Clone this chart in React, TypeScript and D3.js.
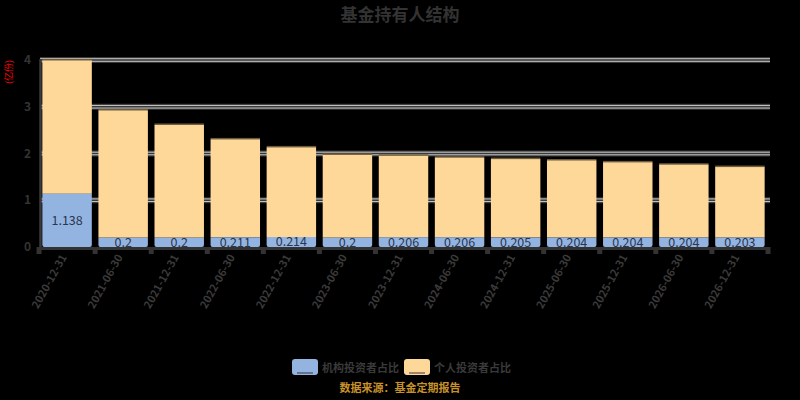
import React from "react";
import * as d3 from "d3";

const categories = [
  "2020-12-31", "2021-06-30", "2021-12-31", "2022-06-30", "2022-12-31",
  "2023-06-30", "2023-12-31", "2024-06-30", "2024-12-31", "2025-06-30",
  "2025-12-31", "2026-06-30", "2026-12-31",
];
const institutional = [1.138, 0.2, 0.2, 0.211, 0.214, 0.2, 0.206, 0.206, 0.205, 0.204, 0.204, 0.204, 0.203];
const individual = [2.852, 2.72, 2.41, 2.09, 1.916, 1.77, 1.744, 1.704, 1.675, 1.646, 1.606, 1.556, 1.507];
const yTicks = [0, 1, 2, 3, 4];
const seriesNames = ["机构投资者占比", "个人投资者占比"];
const title = "基金持有人结构";
const yName = "(亿份)";
const footer = "数据来源：基金定期报告";

const W = 800, H = 400;
const left = 39, right = 768, top = 60, bottom = 247;
const blue = "#93b4e0";
const yellow = "#fed899";
const font = "'Noto Sans CJK SC', 'Noto Sans', sans-serif";

export default function App() {
  const x = d3.scaleBand<string>().domain(categories).range([left, right]).paddingInner(0.118).paddingOuter(0.06);
  const y = d3.scaleLinear().domain([0, 4]).range([bottom, top]);
  const bw = x.bandwidth();
  const r = 2;
  const bottomRounded = (x0: number, y0: number, w: number, h: number) => {
    const rr = Math.min(r, h / 2);
    return `M${x0},${y0}H${x0 + w}V${y0 + h - rr}Q${x0 + w},${y0 + h} ${x0 + w - rr},${y0 + h}H${x0 + rr}Q${x0},${y0 + h} ${x0},${y0 + h - rr}Z`;
  };
  return (
    <svg width={W} height={H} style={{ display: "block", position: "absolute", left: 0, top: 0, background: "#000" }}>
      <rect x={0} y={0} width={W} height={H} fill="#000" />
      <text x={400} y={21} textAnchor="middle" fontFamily={font} fontSize={17} fontWeight="bold" fill="#333">{title}</text>
      {/* y name */}
      <text transform={`translate(12,72) rotate(-90)`} textAnchor="middle" fontFamily={font} fontSize={9} fill="#ff0000">{yName}</text>
      {/* grid */}
      {yTicks.filter((t) => t > 0).map((t) => (
        <g key={t}>
          <rect x={left + 1} y={y(t) - 3} width={770 - left - 1} height={6} fill="#3a3a3a" />
          <line x1={left + 1} x2={770} y1={y(t) - 1.3} y2={y(t) - 1.3} stroke="#c8c8c8" strokeWidth={1} />
          <line x1={left + 1} x2={770} y1={y(t) + 1.3} y2={y(t) + 1.3} stroke="#c8c8c8" strokeWidth={1} />
        </g>
      ))}
      {/* bars */}
      {categories.map((c, i) => {
        const x0 = x(c)!;
        const yb = y(institutional[i]);
        const yt = y(institutional[i] + individual[i]);
        return (
          <g key={c}>
            <rect x={x0} y={yt - 1.5} width={bw} height={2} fill="#6e5c3e" />
            <rect x={x0} y={yt} width={bw} height={yb - yt} fill={yellow} />
            <path d={bottomRounded(x0, yb, bw, bottom - yb)} fill={blue} />
            <text x={x0 + bw / 2} y={(yb + bottom) / 2 + 4.5} textAnchor="middle" fontFamily={font} fontSize={12.5} fill="#2a3550">{institutional[i]}</text>
          </g>
        );
      })}
      {/* y axis */}
      <line x1={40.5} x2={40.5} y1={top - 1} y2={bottom + 3} stroke="#3a3a3a" strokeWidth={2.5} />
      {yTicks.map((t) => (
        <text key={t} x={31} y={y(t) + 4} textAnchor="end" fontFamily={font} fontSize={12} fontWeight="bold" fill="#333">{t}</text>
      ))}
      {/* x axis */}
      <line x1={left} x2={right + 2} y1={bottom + 1.5} y2={bottom + 1.5} stroke="#333" strokeWidth={3} />
      {categories.map((c, i) => {
        const xe = x(c)! - (x.step() - bw) / 2;
        return <rect key={"t" + i} x={xe - 2.5} y={bottom} width={5} height={7} fill="#333" />;
      })}
      <rect x={right - 2.5} y={bottom} width={5} height={7} fill="#333" />
      {categories.map((c) => {
        const cx = x(c)! + bw / 2;
        return (
          <text key={"l" + c} transform={`translate(${cx},${257}) rotate(-61)`} textAnchor="end" fontFamily={font} fontSize={11} fontWeight="bold" fill="#3a3a3a">{c}</text>
        );
      })}
      {/* legend */}
      <rect x={292} y={359} width={26} height={16} rx={3} fill={blue} />
      <line x1={297} x2={313} y1={373} y2={373} stroke="#334" strokeWidth={1} />
      <text x={322} y={371.5} fontFamily={font} fontSize={11} fontWeight="bold" fill="#3a3a3a">{seriesNames[0]}</text>
      <rect x={404} y={359} width={26} height={16} rx={3} fill={yellow} />
      <line x1={409} x2={425} y1={373} y2={373} stroke="#433" strokeWidth={1} />
      <text x={434} y={371.5} fontFamily={font} fontSize={11} fontWeight="bold" fill="#3a3a3a">{seriesNames[1]}</text>
      <text x={400} y={392} textAnchor="middle" fontFamily={font} fontSize={11} fontWeight="bold" fill="#c8922a">{footer}</text>
    </svg>
  );
}
